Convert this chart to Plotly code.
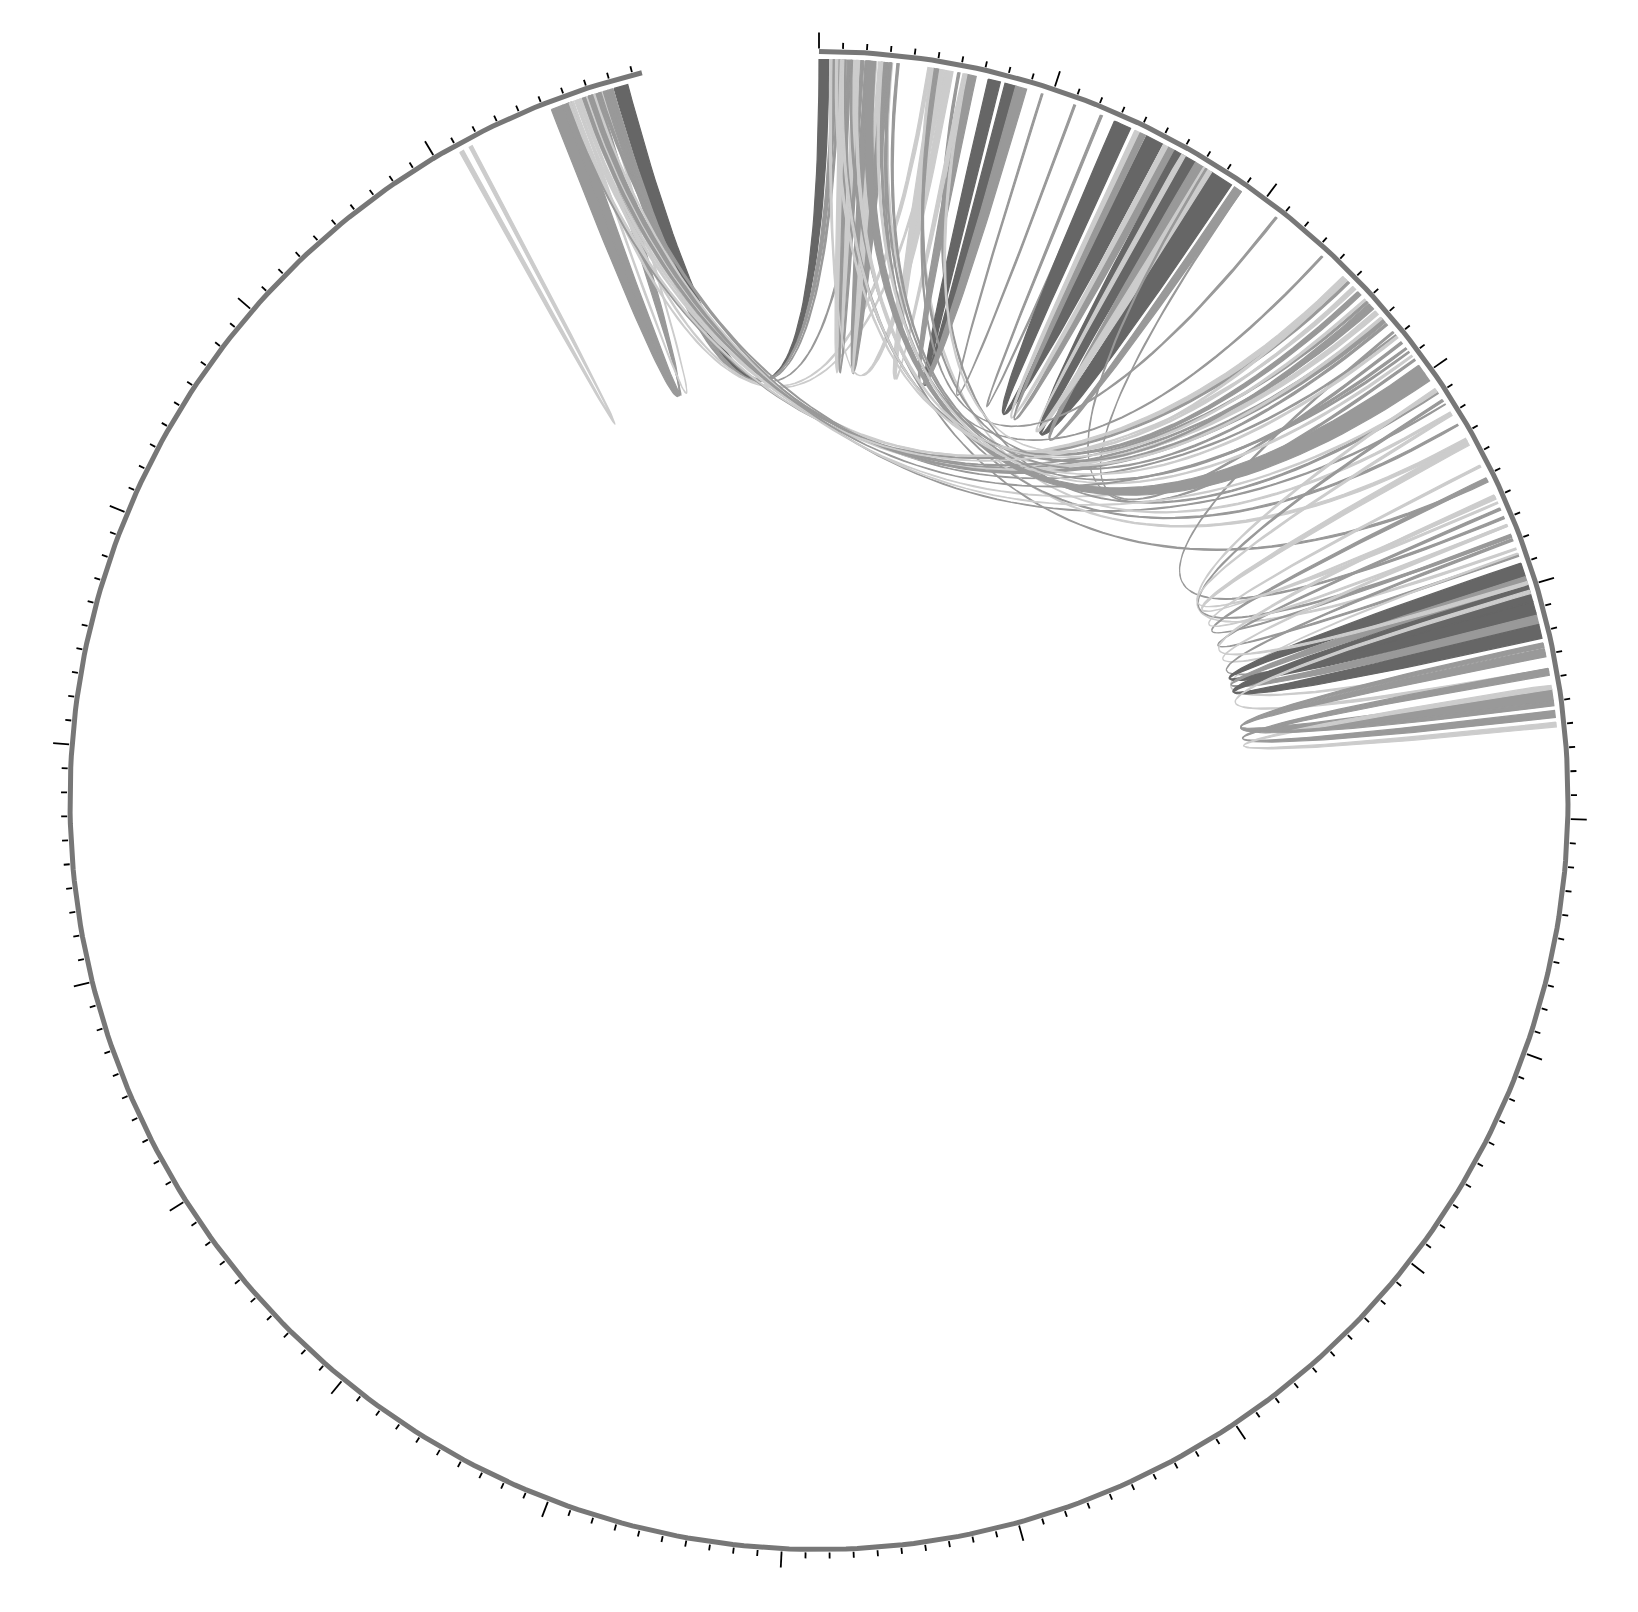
import numpy as np
import plotly.graph_objects as go

# ---------------- data ----------------
CHROM_LEN = 189.4          # length of the single ideogram (units)
GAP = 7.48                 # empty gap after the ideogram (units)
MINOR_STEP = 1
MAJOR_STEP = 10

# links: [a_start, a_end] <-> [b_start, b_end], shade class
link_a_start = [185.30, 185.80, 186.40, 181.02,
                188.10, 187.62, 187.80, 186.55, 186.22, 187.95,
                186.68, 186.80, 187.45, 186.88, 187.40,
                0.90, 1.95, 2.30, 1.20,
                1.35, 3.05, 2.10, 4.75, 5.90,
                4.85, 5.40, 7.22, 8.42, 9.55,
                12.20, 12.85, 13.80, 14.05, 15.70, 16.70, 17.10,
                18.95, 17.20, 20.80,
                23.35, 24.60, 25.50, 26.30, 26.60, 27.00, 27.75, 29.55,
                30.75, 31.30, 33.30, 35.10, 36.50, 37.25, 37.90, 38.55,
                39.00, 39.60, 40.00, 40.20, 42.75, 43.60, 45.90, 42.50,
                32.00, 34.50, 35.90,
                24.90, 25.20, 26.20, 28.00, 30.85, 24.75, 26.05, 26.95,
                27.30, 2.60, 3.00, 1.60, 186.10, 186.95]
link_a_end = [185.80, 186.20, 186.48, 181.20,
              188.70, 187.80, 187.95, 186.65, 186.30, 188.05,
              186.75, 186.86, 187.52, 186.94, 187.45,
              1.20, 2.30, 2.45, 1.35,
              1.42, 3.12, 2.18, 4.85, 6.00,
              5.30, 5.70, 7.75, 8.90, 9.62,
              12.30, 13.60, 14.05, 14.30, 16.70, 17.10, 17.50,
              19.00, 17.26, 20.88,
              23.42, 24.75, 25.70, 26.45, 26.80, 27.25, 27.82, 30.35,
              30.85, 31.40, 33.55, 35.25, 36.60, 37.35, 38.00, 38.60,
              39.60, 40.00, 40.70, 40.35, 43.10, 43.90, 46.10, 42.70,
              32.10, 34.60, 36.05,
              25.00, 25.30, 26.28, 28.10, 30.92, 24.85, 26.15, 27.05,
              27.40, 2.70, 3.08, 1.68, 186.18, 187.00]
link_b_start = [187.10, 186.95, 187.55, 181.45,
                0.00, 0.55, 0.80, 4.60, 5.30, 2.00,
                24.75, 26.40, 27.90, 29.90, 31.50,
                1.45, 2.65, 2.50, 1.75,
                35.20, 33.20, 32.50, 31.90, 30.90,
                6.10, 0.45, 7.95, 6.30, 11.00,
                12.95, 14.35, 15.15, 15.40, 17.50, 18.65, 16.00,
                28.30, 29.20, 5.00,
                3.00, 186.35, 1.00, 2.80, 186.50, 187.00, 36.90, 2.00,
                38.30, 37.75, 36.00, 37.70, 38.60, 40.00, 41.10, 42.90,
                40.70, 41.30, 41.70, 43.60, 44.50, 45.40, 44.30, 45.00,
                36.20, 37.25, 39.80,
                186.00, 0.70, 4.90, 1.60, 187.20, 6.20, 186.70, 0.95,
                3.30, 29.00, 28.60, 25.90, 25.30, 28.80]
link_b_end = [187.40, 187.10, 187.62, 181.62,
              0.44, 0.75, 0.90, 4.75, 5.40, 2.10,
              24.85, 26.50, 27.97, 30.00, 31.56,
              1.75, 3.05, 2.65, 1.90,
              35.30, 33.35, 32.60, 32.00, 31.00,
              6.30, 0.55, 8.42, 6.70, 11.08,
              13.05, 15.10, 15.40, 15.70, 18.50, 19.00, 16.20,
              28.40, 29.30, 5.08,
              3.05, 186.45, 1.15, 2.90, 186.60, 187.15, 37.00, 2.40,
              38.40, 37.85, 36.10, 37.80, 38.70, 40.10, 41.20, 43.00,
              41.30, 41.70, 42.30, 43.75, 45.00, 45.70, 44.50, 45.20,
              36.30, 37.35, 39.95,
              186.10, 0.80, 5.00, 1.70, 187.25, 6.30, 186.80, 1.05,
              3.40, 29.10, 28.70, 26.00, 25.38, 28.88]
link_shade = ["mid", "mid", "light", "light",
              "dark", "mid", "mid", "light", "light", "mid",
              "light", "mid", "mid", "light", "mid",
              "light", "mid", "light", "mid",
              "mid", "light", "mid", "light", "mid",
              "light", "light", "dark", "mid", "mid",
              "mid", "dark", "light", "mid", "dark", "mid", "light",
              "mid", "mid", "mid",
              "mid", "light", "mid", "mid", "light", "mid", "mid", "mid",
              "light", "mid", "light", "mid", "mid", "light", "mid", "light",
              "dark", "mid", "dark", "light", "mid", "mid", "light", "mid",
              "light", "light", "light",
              "mid", "light", "mid", "light", "light", "light", "mid", "light",
              "mid", "light", "mid", "light", "light", "mid"]

SHADE_COLORS = {"dark": "#666666", "mid": "#999999", "light": "#cccccc"}

# ---------------- geometry ----------------
W, H = 1638, 1612
CX, CY = 819.0, 800.5
R_IDEO = 749.0
R_LINK = 741.0
R_CTRL = 324.0
DEG_PER_UNIT = 360.0 / (CHROM_LEN + GAP)


def theta(u):
    return np.deg2rad(np.asarray(u, dtype=float) * DEG_PER_UNIT)


def polar_xy(r, th):
    return CX + r * np.sin(th), CY - r * np.cos(th)


def arc(r, u0, u1, n=8):
    th = theta(np.linspace(u0, u1, n))
    return polar_xy(r, th)


def bezier(u0, u1, n=70):
    t0, t1 = float(theta(u0)), float(theta(u1))
    p0 = np.array(polar_xy(R_LINK, t0))
    p1 = np.array(polar_xy(R_CTRL, t0))
    p2 = np.array(polar_xy(R_CTRL, t1))
    p3 = np.array(polar_xy(R_LINK, t1))
    t = np.linspace(0, 1, n)[:, None]
    pts = ((1 - t) ** 3) * p0 + 3 * ((1 - t) ** 2) * t * p1 + 3 * (1 - t) * t ** 2 * p2 + t ** 3 * p3
    return pts[:, 0], pts[:, 1]


fig = go.Figure()

for a0, a1, b0, b1, sh in zip(link_a_start, link_a_end, link_b_start, link_b_end, link_shade):
    xs, ys = [], []
    x, y = arc(R_LINK, a0, a1); xs += list(x); ys += list(y)
    x, y = bezier(a1, b0); xs += list(x); ys += list(y)
    x, y = arc(R_LINK, b0, b1); xs += list(x); ys += list(y)
    x, y = bezier(b1, a0); xs += list(x); ys += list(y)
    col = SHADE_COLORS[sh]
    fig.add_trace(go.Scatter(x=xs, y=ys, mode="lines", fill="toself", fillcolor=col,
                             line=dict(color=col, width=1.2), hoverinfo="skip",
                             showlegend=False))

# ideogram
ix, iy = arc(R_IDEO, 0, CHROM_LEN, n=400)
fig.add_trace(go.Scatter(x=ix, y=iy, mode="lines", line=dict(color="#777777", width=5),
                         hoverinfo="skip", showlegend=False))

# ticks
tx, ty = [], []
for k in np.arange(0, CHROM_LEN + 1e-9, MINOR_STEP):
    major = (round(k) % MAJOR_STEP == 0)
    r1 = 768.0 if major else 758.0
    th = float(theta(k))
    x0, y0 = polar_xy(752.0, th)
    x1, y1 = polar_xy(r1, th)
    tx += [x0, x1, None]
    ty += [y0, y1, None]
fig.add_trace(go.Scatter(x=tx, y=ty, mode="lines", line=dict(color="#000000", width=1.8),
                         hoverinfo="skip", showlegend=False))

fig.update_layout(width=W, height=H, margin=dict(l=0, r=0, t=0, b=0),
                  paper_bgcolor="white", plot_bgcolor="white", showlegend=False)
fig.update_xaxes(visible=False, range=[0, W], fixedrange=True)
fig.update_yaxes(visible=False, range=[H, 0], fixedrange=True)

fig.write_html("out.html")
